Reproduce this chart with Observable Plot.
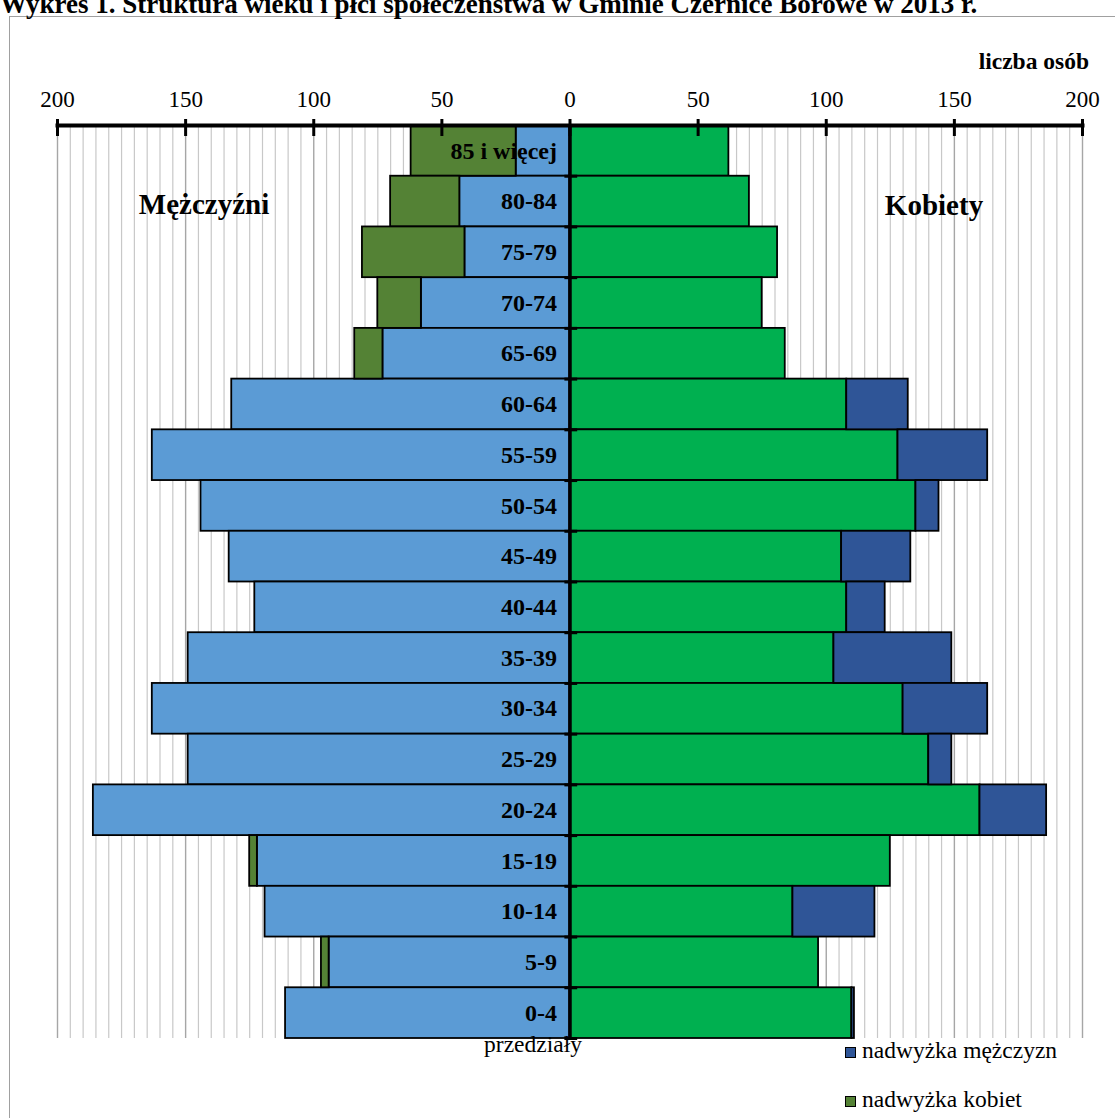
<!DOCTYPE html>
<html>
<head>
<meta charset="utf-8">
<script src="https://cdn.jsdelivr.net/npm/d3@7"></script>
<script src="https://cdn.jsdelivr.net/npm/@observablehq/plot@0.6"></script>
<style>
  html, body { margin: 0; padding: 0; background: #fff; overflow: hidden; }
  #wrap { position: relative; width: 1115px; height: 1118px; font-family: "Liberation Serif", "Times New Roman", serif; color: #000; }
  .abs { position: absolute; white-space: nowrap; line-height: 1; }
  #border { position: absolute; left: 9px; top: 16px; width: 1200px; height: 1200px; border-left: 1.5px solid #a0a0a0; border-top: 1.5px solid #a0a0a0; }
  #plot { position: absolute; left: 0; top: 0; }
  .sw { position: absolute; width: 9px; height: 9px; border: 1.5px solid #000; }
</style>
</head>
<body>
<div id="wrap">
  <div id="border"></div>
  <div id="plot"></div>
</div>
<script>
// ---- data ----
const categories = ["85 i więcej","80-84","75-79","70-74","65-69","60-64","55-59","50-54","45-49","40-44","35-39","30-34","25-29","20-24","15-19","10-14","5-9","0-4"];
const men   = [21, 43, 41, 58, 73, 132, 163, 144, 133, 123, 149, 163, 149, 186, 122, 119, 94, 111];
const women = [62, 70, 81, 75, 84, 108, 128, 135, 106, 108, 103, 130, 140, 160, 125, 87, 97, 110];
const xTicks = [-200, -150, -100, -50, 0, 50, 100, 150, 200];
const gridValues = d3.range(-200, 201, 5);

const titleText = "Wykres 1. Struktura wieku i płci społeczeństwa w Gminie Czernice Borowe w 2013 r.";
const unitText = "liczba osób";
const menText = "Mężczyźni";
const womenText = "Kobiety";
const catAxisText = "przedziały";
const legendItems = [
  {label: "nadwyżka mężczyzn", color: "#2F5597"},
  {label: "nadwyżka kobiet", color: "#548235"}
];

const C = {menBar: "#5B9BD5", womenBar: "#00B050", menSurplus: "#2F5597", womenSurplus: "#548235"};

const rows = categories.map((c, i) => ({cat: c, men: men[i], women: women[i]}));

const W = 1115, H = 1118, mT = 125, mB = 80, mL = 57, mR = 33;
const bw = (H - mT - mB) / categories.length;

const chart = Plot.plot({
  width: W, height: H,
  marginTop: mT, marginBottom: mB, marginLeft: mL, marginRight: mR,
  style: {fontFamily: "Liberation Serif, Times New Roman, serif", fontSize: "23px", background: "transparent", overflow: "visible", color: "#000"},
  x: {domain: [-200, 200]},
  y: {domain: categories, padding: 0, round: false, axis: null},
  marks: [
    Plot.ruleX(gridValues.filter(v => v % 50 !== 0), {x: d => d, stroke: "#c8c8c8", strokeWidth: 1.2, strokeOpacity: 1}),
    Plot.ruleX(gridValues.filter(v => v % 50 === 0), {x: d => d, stroke: "#a6a6a6", strokeWidth: 1.4, strokeOpacity: 1}),
    // men (left)
    Plot.barX(rows, {y: "cat", x1: d => -d.men, x2: 0, fill: C.menBar, stroke: "#000", strokeWidth: 1.8}),
    // women surplus (left)
    Plot.barX(rows.filter(d => d.women > d.men), {y: "cat", x1: d => -d.women, x2: d => -d.men, fill: C.womenSurplus, stroke: "#000", strokeWidth: 1.8}),
    // women (right)
    Plot.barX(rows, {y: "cat", x1: 0, x2: d => d.women, fill: C.womenBar, stroke: "#000", strokeWidth: 1.8}),
    // men surplus (right)
    Plot.barX(rows.filter(d => d.men > d.women), {y: "cat", x1: d => d.women, x2: d => d.men, fill: C.menSurplus, stroke: "#000", strokeWidth: 1.8}),
    // central vertical axis
    Plot.ruleX([0], {stroke: "#000", strokeWidth: 3.5}),
    // category boundary ticks
    Plot.ruleY(categories, {y: d => d, x1: -2, x2: 3, dy: bw / 2, stroke: "#000", strokeWidth: 3}),
    // top axis line
    Plot.frame({anchor: "top", stroke: "#000", strokeWidth: 4}),
    // cross tick marks
    Plot.axisX({anchor: "top", ticks: xTicks, tickSize: 17, dy: 10, tickFormat: () => "", strokeWidth: 3, label: null}),
    // tick labels
    Plot.axisX({anchor: "top", ticks: xTicks, tickSize: 0, tickPadding: 19, tickFormat: d => Math.abs(d), fontSize: 23, label: null}),
    // category labels
    Plot.text(categories, {y: d => d, x: 0, dx: -13, textAnchor: "end", fontWeight: "bold", fontSize: 24, fill: "#000"})
  ]
});
document.getElementById("plot").appendChild(chart);

// ---- text overlays ----
const wrap = document.getElementById("wrap");
function addText(txt, css) {
  const el = document.createElement("div");
  el.className = "abs";
  el.textContent = txt;
  Object.assign(el.style, css);
  wrap.appendChild(el);
  return el;
}
addText(titleText, {left: "0px", top: "-9px", fontSize: "27px", fontWeight: "bold"});
addText(unitText, {right: "26px", top: "50px", fontSize: "23.5px", fontWeight: "bold"});
addText(menText, {left: "204px", top: "190px", fontSize: "29px", fontWeight: "bold", transform: "translateX(-50%)"});
addText(womenText, {left: "934px", top: "191px", fontSize: "29px", fontWeight: "bold", transform: "translateX(-50%)"});
addText(catAxisText, {left: "533px", top: "1033px", fontSize: "23.5px", transform: "translateX(-50%)"});
legendItems.forEach((it, i) => {
  const sw = document.createElement("div");
  sw.className = "sw";
  sw.style.left = "845px";
  sw.style.top = (1047 + i * 49) + "px";
  sw.style.background = it.color;
  wrap.appendChild(sw);
  addText(it.label, {left: "862px", top: (1039 + i * 49) + "px", fontSize: "23.5px"});
});
</script>
</body>
</html>
